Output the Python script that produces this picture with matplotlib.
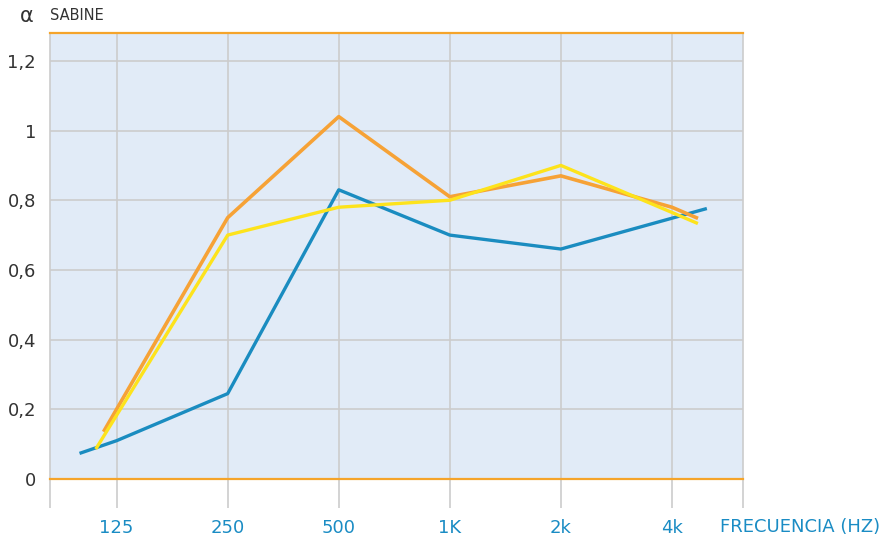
import matplotlib
matplotlib.use("Agg")
import matplotlib.pyplot as plt

# octave bands, x positions are band index (125 Hz = 0)
band_labels = ["125", "250", "500", "1K", "2k", "4k"]
band_pos = [0, 1, 2, 3, 4, 5]

blue_x = [-0.32, 0, 1, 2, 3, 4, 5.3]
blue_y = [0.075, 0.11, 0.245, 0.83, 0.70, 0.66, 0.775]

orange_x = [-0.11, 1, 2, 3, 4, 5, 5.22]
orange_y = [0.14, 0.75, 1.04, 0.81, 0.87, 0.78, 0.75]

yellow_x = [-0.18, 1, 2, 3, 4, 5, 5.22]
yellow_y = [0.09, 0.70, 0.78, 0.80, 0.90, 0.765, 0.735]

y_ticks = [0, 0.2, 0.4, 0.6, 0.8, 1.0, 1.2]
y_labels = ["0", "0,2", "0,4", "0,6", "0,8", "1", "1,2"]

plt.rcParams['font.family'] = ['DejaVu Sans']

fig = plt.figure(figsize=(8.83, 5.4), dpi=100)
ax = fig.add_axes([50 / 883, 61 / 540, 693 / 883, 446 / 540])
ax.set_facecolor("#e1ebf7")

ax.set_xlim(-0.6, 5.64)
ax.set_ylim(0, 1.28)

grid_col = "#cccccc"
ax.set_xticks(band_pos)
ax.set_xticklabels(band_labels)
ax.set_xticks([-0.6, 5.64], minor=True)
ax.set_yticks(y_ticks)
ax.set_yticklabels(y_labels)
ax.grid(True, which="major", color=grid_col, linewidth=1.2)
ax.set_axisbelow(True)

ax.tick_params(axis="x", which="both", direction="out", length=21,
               width=1.2, color=grid_col, labelcolor="#1a8cc4",
               labelsize=13, pad=8)
ax.tick_params(axis="y", length=0, labelcolor="#333333", labelsize=13, pad=10)

for side in ("left", "right"):
    ax.spines[side].set_color(grid_col)
    ax.spines[side].set_linewidth(1.2)
for side in ("top", "bottom"):
    ax.spines[side].set_color("#f5a42a")
    ax.spines[side].set_linewidth(1.6)

ax.plot(blue_x, blue_y, color="#1a8cc0", linewidth=2.4, clip_on=False)
ax.plot(orange_x, orange_y, color="#f6a236", linewidth=2.6, clip_on=False)
ax.plot(yellow_x, yellow_y, color="#fde31c", linewidth=2.4, clip_on=False)

fig.text(20 / 883, 1 - 16 / 540, "α", fontsize=15, color="#333333",
         va="center", ha="left")
fig.text(50 / 883, 1 - 16 / 540, "SABINE", fontsize=10.5, color="#333333",
         va="center", ha="left")
fig.text(880 / 883, 1 - 527 / 540, "FRECUENCIA (HZ)", fontsize=13,
         color="#1a8cc4", va="center", ha="right")

fig.savefig("out.png", dpi=100)
